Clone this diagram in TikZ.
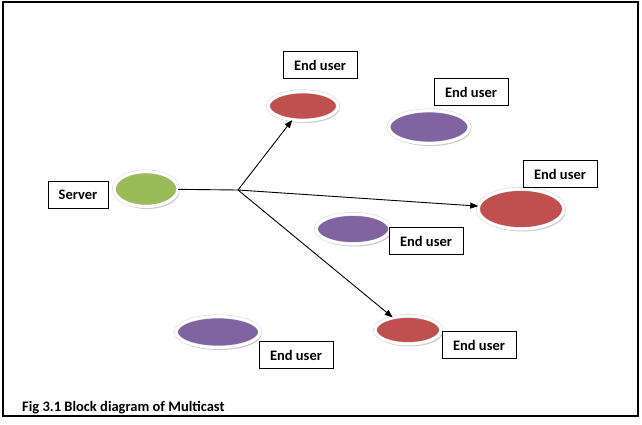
\documentclass[tikz,border=0pt]{standalone}
\usepackage{fontspec}
\setmainfont{Carlito}
\usepackage{xcolor}
\usetikzlibrary{positioning,arrows.meta,shapes.geometric,shadows}
\definecolor{UserRed}{RGB}{192,80,77}
\definecolor{UserPurple}{RGB}{128,100,162}
\definecolor{ServerGreen}{RGB}{155,187,89}
\definecolor{RimGray}{RGB}{205,205,205}

\begin{document}
\begin{tikzpicture}[
  x=1pt, y=-1pt,
  font=\fontsize{14.5}{16}\selectfont\bfseries,
  label box/.style={draw=black, thick, fill=white, inner sep=0pt, minimum width=74pt, minimum height=27pt},
  disc/.style={ellipse, inner sep=0pt, draw=RimGray, double=white, double distance=3pt,
    drop shadow={shadow xshift=1.5pt, shadow yshift=-2.5pt, opacity=0.4}},
  link/.style={draw=black, line width=0.9pt},
  arrow/.style={link, -{Triangle[length=8pt,width=6pt]}}
]
\useasboundingbox (0,0) rectangle (642,425);
\draw[line width=1.3pt] (3,2) rectangle (638,416);

% server side
\node[label box, minimum width=60pt] (srvlbl) at (78,195) {Server};
\node[disc, fill=ServerGreen, minimum width=64pt, minimum height=35pt] (server) at (146,189) {};
\coordinate (hub) at (238,190);

% end users
\node[disc, fill=UserRed, minimum width=70pt, minimum height=29pt] (u1) at (303,106) {};
\node[disc, fill=UserPurple, minimum width=81pt, minimum height=33pt] (u2) at (429,127) {};
\node[disc, fill=UserRed, minimum width=86pt, minimum height=40pt] (u3) at (521,209) {};
\node[disc, fill=UserPurple, minimum width=74pt, minimum height=30pt] (u4) at (353,229) {};
\node[disc, fill=UserRed, minimum width=66pt, minimum height=28pt] (u5) at (408,330) {};
\node[disc, fill=UserPurple, minimum width=84pt, minimum height=31pt] (u6) at (218,332) {};

\node[label box] (lbl1) at (320,65) {End user};
\node[label box] (lbl2) at (471,92) {End user};
\node[label box] (lbl3) at (560,174) {End user};
\node[label box] (lbl4) at (426,241) {End user};
\node[label box] (lbl5) at (479,345) {End user};
\node[label box] (lbl6) at (296,355) {End user};

% multicast links
\draw[link] (server) -- (hub);
\draw[arrow] (hub) -- (u1);
\draw[arrow] (hub) -- (u3);
\draw[arrow] (hub) -- (u5);

\node[anchor=base west, inner sep=0pt] (caption) at (22,411) {Fig 3.1 Block diagram of Multicast};
\end{tikzpicture}
\end{document}
